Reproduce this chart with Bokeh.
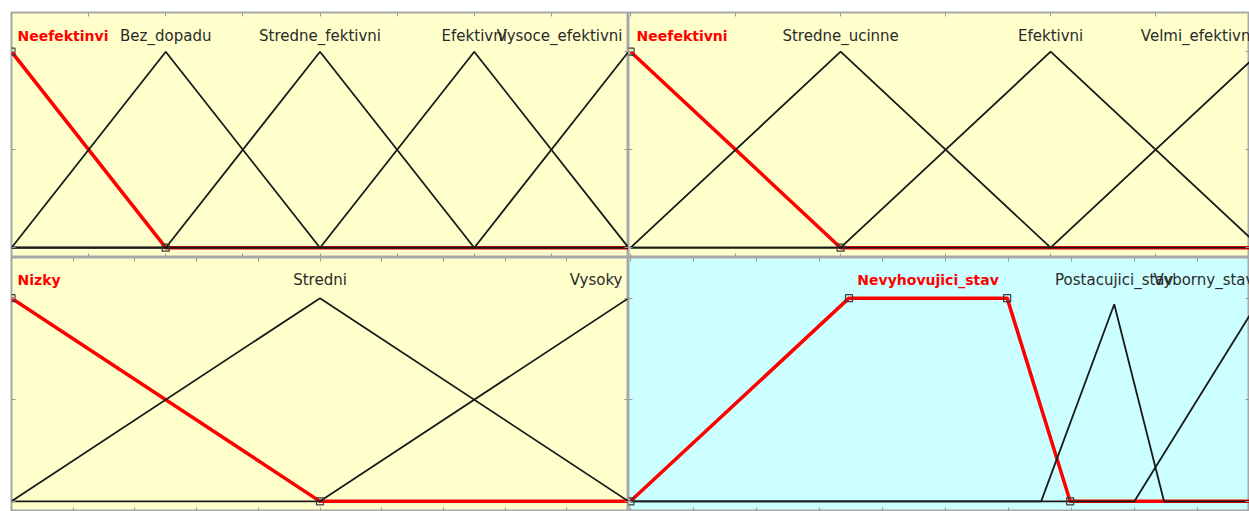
import numpy as np
from bokeh.plotting import figure
from bokeh.models import Range1d, LinearAxis, FixedTicker, CustomLabelingPolicy
from bokeh.layouts import gridplot
from bokeh.embed import file_html
from bokeh.resources import INLINE
from bokeh.core.properties import value

# ---------------- data (membership-function polylines) ----------------
# top-left panel (input domain 0..4)
tl_names = ["Neefektinvi", "Bez_dopadu", "Stredne_fektivni", "Efektivni", "Vysoce_efektivni"]
tl_x = [[0, 1, 4], [0, 1, 2, 4], [0, 1, 2, 3, 4], [0, 2, 3, 4], [0, 3, 4]]
tl_y = [[1, 0, 0], [0, 1, 0, 0], [0, 0, 1, 0, 0], [0, 0, 1, 0], [0, 0, 1]]
tl_marks = [0, 1]
tl_domain = (0, 4)

# top-right panel (input domain 0..3)
tr_names = ["Neefektivni", "Stredne_ucinne", "Efektivni", "Velmi_efektivni"]
tr_x = [[0, 1, 3], [0, 1, 2, 3], [0, 1, 2, 3], [0, 2, 3]]
tr_y = [[1, 0, 0], [0, 1, 0, 0], [0, 0, 1, 0], [0, 0, 1]]
tr_marks = [0, 1]
tr_domain = (0, 3)

# bottom-left panel (input domain 0..10)
bl_names = ["Nizky", "Stredni", "Vysoky"]
bl_x = [[0, 5, 10], [0, 5, 10], [0, 5, 10]]
bl_y = [[1, 0, 0], [0, 1, 0], [0, 0, 1]]
bl_marks = [0, 5]
bl_domain = (0, 10)

# bottom-right panel (output domain 0..100)
br_names = ["Nevyhovujici_stav", "Postacujici_stav", "Vyborny_stav"]
br_x = [[0, 34.7, 59.8, 69.8, 100], [0, 65.2, 76.8, 84.7, 100], [0, 80, 100]]
br_y = [[0, 1, 1, 0, 0], [0, 0, 0.97, 0, 0], [0, 0, 1]]
br_marks = [0, 34.7, 59.8, 69.8]
br_domain = (0, 100)

YELLOW = "#ffffcc"
CYAN = "#ccffff"
FONT = "DejaVu Sans"

NO_LABELS = "for (const i of indices) indices.unset(i); return indices"


def make_panel(width, height, xr, xticks, bg, borders, names, xs, ys, marks, domain, label_off):
    p = figure(width=width, height=height,
               x_range=Range1d(*xr), y_range=Range1d(-0.05, 1.2),
               x_axis_location=None, y_axis_location=None,
               toolbar_location=None, output_backend="svg",
               min_border_left=borders[0], min_border_right=borders[1],
               min_border_top=borders[2], min_border_bottom=borders[3])
    p.background_fill_color = bg
    p.border_fill_color = "white"
    p.outline_line_color = "#a8a8a8"
    p.outline_line_width = 2
    p.grid.visible = False
    for loc, ticks in (("above", xticks), ("below", xticks),
                       ("left", [0, 0.5, 1]), ("right", [0, 0.5, 1])):
        ax = LinearAxis(ticker=FixedTicker(ticks=list(ticks)),
                        major_tick_in=4, major_tick_out=0,
                        minor_tick_line_color=None, axis_line_color=None,
                        major_tick_line_color="#9a9a9a",
                        major_label_text_font_size="0px",
                        major_label_policy=CustomLabelingPolicy(code=NO_LABELS),
                        major_label_standoff=0)
        p.add_layout(ax, loc)

    # selected MF (index 0) in red, drawn first
    p.line(xs[0], ys[0], line_color="#ff0000", line_width=3.5, line_join="round")
    for i in range(1, len(names)):
        p.line(xs[i], ys[i], line_color="#1a1a1a", line_width=1.8)
    my = np.interp(marks, xs[0], ys[0])
    p.scatter(marks, my, marker="square", size=7, fill_alpha=0,
              line_color="#3a3a3a", line_width=1.2)

    # labels
    for i, name in enumerate(names):
        yarr = np.array(ys[i], dtype=float)
        xarr = np.array(xs[i], dtype=float)
        top = yarr.max()
        peak = float(xarr[yarr == top].mean())
        if peak <= domain[0]:
            align, xo = "left", 6
        elif peak >= domain[1]:
            align, xo = "right", -6
        else:
            align, xo = "center", 0
        sel = (i == 0)
        p.text(x=[peak], y=[1.0], text=[name], text_align=align,
               text_baseline="alphabetic", x_offset=xo, y_offset=label_off,
               text_font=value(FONT),
               text_font_size="14px" if sel else "15px",
               text_font_style="bold" if sel else "normal",
               text_color="#ff0000" if sel else "#2a2a2a")
    return p


p1 = make_panel(628, 257, (0, 4), np.arange(0, 4.01, 0.5), YELLOW, (11, 0, 12, 0),
                tl_names, tl_x, tl_y, tl_marks, tl_domain, -16)
p2 = make_panel(621, 257, (-0.01, 2.947), np.arange(0, 3.01, 0.5), YELLOW, (0, 0, 12, 0),
                tr_names, tr_x, tr_y, tr_marks, tr_domain, -16)
p3 = make_panel(628, 254, (0, 10), np.arange(0, 10.01, 1), YELLOW, (11, 0, 0, 0),
                bl_names, bl_x, bl_y, bl_marks, bl_domain, -18)
p4 = make_panel(621, 254, (-0.3, 98.27), np.arange(0, 100.1, 10), CYAN, (0, 0, 0, 0),
                br_names, br_x, br_y, br_marks, br_domain, -18)

grid = gridplot([[p1, p2], [p3, p4]], toolbar_location=None)

open("out.html", "w").write(file_html(grid, INLINE))
